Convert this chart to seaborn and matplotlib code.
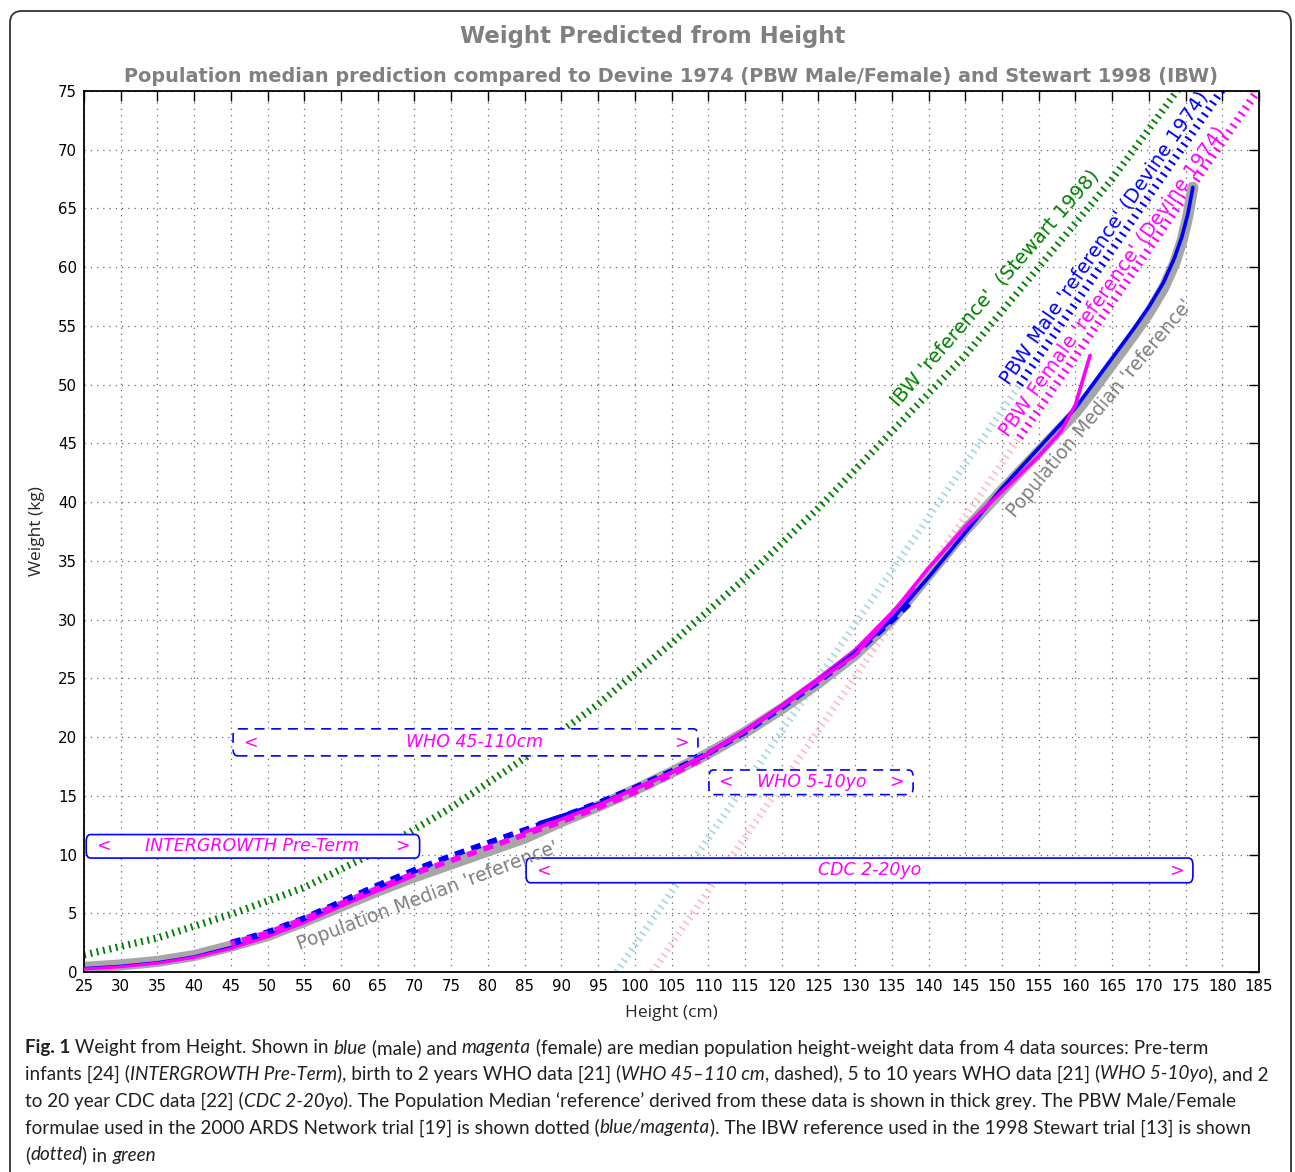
import matplotlib
matplotlib.use("Agg")
import matplotlib.pyplot as plt
import seaborn as sns
from matplotlib.patches import FancyBboxPatch
from matplotlib.transforms import IdentityTransform

# ---------------- values ----------------
# Population median 'reference' (thick grey)
median_height = [25, 30, 35, 40, 45, 50, 55, 60, 65, 70, 75, 80, 85, 90, 95, 100, 105,
                 110, 115, 120, 125, 130, 135, 140, 145, 150, 155, 160, 162, 164, 166, 168,
                 170, 172, 173.5, 174.5, 175.3, 176]
median_weight = [0.4, 0.6, 0.9, 1.4, 2.2, 3.1, 4.3, 5.6, 6.9, 8.1, 9.2, 10.3, 11.4, 12.8, 14.1, 15.5, 17.0,
                 18.6, 20.4, 22.4, 24.6, 27.0, 30.0, 33.8, 37.6, 41.0, 44.3, 47.6, 49.2, 50.9, 52.6, 54.3,
                 56.1, 58.2, 60.3, 62.2, 64.3, 66.8]

# INTERGROWTH pre-term (solid)
ig_height_m = [25, 30, 35, 40, 45, 50, 55, 60, 65, 70, 72]
ig_weight_m = [0.3, 0.5, 0.8, 1.3, 2.1, 3.1, 4.3, 5.7, 7.1, 8.5, 9.0]
ig_height_f = [25, 30, 35, 40, 45, 50, 55, 60, 65, 70]
ig_weight_f = [0.25, 0.45, 0.75, 1.25, 2.0, 3.0, 4.2, 5.6, 6.9, 8.2]

# WHO 45-110cm (dashed)
who1_height = [45, 50, 55, 60, 65, 70, 75, 80, 85, 90, 95, 100, 105, 110]
who1_weight_m = [2.5, 3.4, 4.6, 6.0, 7.4, 8.7, 9.9, 11.0, 12.1, 13.2, 14.4, 15.7, 17.1, 18.6]
who1_weight_f = [2.4, 3.3, 4.5, 5.8, 7.1, 8.4, 9.5, 10.6, 11.7, 12.8, 14.0, 15.3, 16.8, 18.4]

# WHO 5-10yo (dashed)
who2_height = [110, 115, 120, 125, 130, 135, 138]
who2_weight_m = [18.6, 20.4, 22.5, 24.7, 27.1, 29.9, 31.7]
who2_weight_f = [18.7, 20.6, 22.7, 25.0, 27.4, 30.6, 32.6]

# CDC 2-20yo (solid)
cdc_height_m = [87, 90, 95, 100, 105, 110, 115, 120, 125, 130, 135, 140, 145, 150,
                155, 160, 162, 164, 166, 168, 170, 172, 173.5, 174.5, 175.3, 176]
cdc_weight_m = [12.7, 13.3, 14.3, 15.6, 17.0, 18.6, 20.5, 22.6, 24.8, 27.2, 30.0, 33.6, 37.4, 41.2,
                44.6, 48.0, 49.7, 51.4, 53.1, 54.8, 56.6, 58.7, 60.8, 62.6, 64.5, 66.8]
cdc_height_f = [85, 90, 95, 100, 105, 110, 115, 120, 125, 130, 135, 140, 145, 150, 155, 158, 160, 162]
cdc_weight_f = [11.9, 13.0, 14.2, 15.6, 17.0, 18.6, 20.5, 22.6, 24.8, 27.0, 30.5, 34.4, 37.9, 40.9,
                43.9, 46.0, 48.3, 52.5]

# IBW 'reference' (Stewart 1998), green dotted
ibw_height = [25, 35, 45, 55, 65, 75, 85, 95, 105, 115, 125, 135, 145, 155, 165, 175]
ibw_weight = [1.45, 2.9, 4.9, 7.2, 10.3, 14.0, 18.2, 22.8, 28.0, 33.5, 39.5, 46.0, 52.5, 60.0, 67.5, 76.0]

# PBW 'reference' (Devine 1974), light below 152.4 cm
pbw_m_height_lo = [97.5, 152.4]
pbw_m_weight_lo = [0.0, 50.0]
pbw_m_height_hi = [152.4, 185.0]
pbw_m_weight_hi = [50.0, 79.7]
pbw_f_height_lo = [102.4, 152.4]
pbw_f_weight_lo = [0.0, 45.5]
pbw_f_height_hi = [152.4, 185.0]
pbw_f_weight_hi = [45.5, 75.2]

# data source range boxes
source_names = ["INTERGROWTH Pre-Term", "WHO 45-110cm", "WHO 5-10yo", "CDC 2-20yo"]
source_from = [25.3, 45.3, 110.1, 85.2]
source_to = [70.7, 108.6, 137.9, 176.0]
source_low = [9.7, 18.4, 15.1, 7.6]
source_high = [11.7, 20.7, 17.2, 9.7]
source_text_x = [47.9, 78.2, 124.1, 132.0]
source_dashed = [False, True, True, False]

W, H = 1295, 1172
sns.set_style("white")
plt.rcParams['font.family'] = ['DejaVu Sans']

fig = plt.figure(figsize=(W / 100, H / 100), dpi=100)
ax = fig.add_axes([84 / W, 1 - 972 / H, 1175 / W, 881 / H])

BLUE, MAG, GREEN, GREY = "#0000ff", "#ff00ff", "#008000", "#a6a6a6"
TICKS = (0, (0.26, 0.64))


def draw(x, y, color, lw, ls="-", z=2):
    sns.lineplot(x=x, y=y, ax=ax, color=color, linewidth=lw, linestyle=ls,
                 estimator=None, sort=False, zorder=z)


draw(ibw_height, ibw_weight, GREEN, 5.2, TICKS, 1)
draw(pbw_m_height_lo, pbw_m_weight_lo, "#add8e6", 5.2, TICKS, 1)
draw(pbw_f_height_lo, pbw_f_weight_lo, "#ffc0cb", 5.2, TICKS, 1)
draw(pbw_m_height_hi, pbw_m_weight_hi, BLUE, 5.8, TICKS, 1)
draw(pbw_f_height_hi, pbw_f_weight_hi, MAG, 5.8, TICKS, 1)

draw(median_height, median_weight, GREY, 8.0, "-", 2)

draw(ig_height_m, ig_weight_m, BLUE, 2.2, "-", 3)
draw(ig_height_f, ig_weight_f, MAG, 2.2, "-", 3)
draw(who1_height, who1_weight_m, BLUE, 4.0, (0, (1.8, 1.3)), 3)
draw(who1_height, who1_weight_f, MAG, 4.0, (1.0, (1.8, 1.3)), 3)
draw(who2_height, who2_weight_m, BLUE, 4.0, (0, (1.8, 1.3)), 3)
draw(who2_height, who2_weight_f, MAG, 2.5, "-", 3)
draw(cdc_height_m, cdc_weight_m, BLUE, 2.6, "-", 4)
draw(cdc_height_f, cdc_weight_f, MAG, 2.6, "-", 4)

# source range boxes
for name, x0, x1, y0, y1, tx, dashed in zip(source_names, source_from, source_to,
                                            source_low, source_high, source_text_x, source_dashed):
    box = FancyBboxPatch((x0, y0), x1 - x0, y1 - y0,
                         boxstyle="round,pad=0,rounding_size=0.6",
                         facecolor="white", edgecolor=BLUE, linewidth=1.2,
                         linestyle=(0, (6, 4)) if dashed else "-", zorder=5)
    ax.add_patch(box)
    ym = (y0 + y1) / 2
    ax.text(tx, ym, name, color=MAG, style="italic", fontsize=12.5, ha="center", va="center",
            family="DejaVu Sans", zorder=6)
    ax.text(x0 + 2.3, ym, "<", color=MAG, fontsize=12.5, ha="center", va="center",
            family="DejaVu Sans", zorder=6)
    ax.text(x1 - 2.3, ym, ">", color=MAG, fontsize=12.5, ha="center", va="center",
            family="DejaVu Sans", zorder=6)

# rotated curve labels
lbl = dict(ha="center", va="center", rotation_mode="anchor", zorder=7, family="DejaVu Sans")
ax.text(149.0, 58.2, "IBW 'reference'  (Stewart 1998)", color=GREEN, rotation=48.9, fontsize=14, **lbl)
ax.text(163.9, 62.5, "PBW Male 'reference' (Devine 1974)", color=BLUE, rotation=55.4, fontsize=14, **lbl)
ax.text(165.0, 58.8, "PBW Female 'reference' (Devine 1974)", color=MAG, rotation=54.5, fontsize=14, **lbl)
ax.text(163.3, 48.0, "Population Median 'reference'", color="#808080", rotation=50.0, fontsize=13.5, **lbl)
ax.text(71.8, 6.5, "Population Median 'reference'", color="#808080", rotation=20.7, fontsize=13.5, **lbl)

# axes styling
ax.set_xlim(25, 185)
ax.set_ylim(0, 75)
ax.set_xticks(range(25, 186, 5))
ax.set_yticks(range(0, 76, 5))
ax.tick_params(direction="in", length=7, width=1, top=True, right=True,
               labelsize=10.8, colors="black", pad=5, labelfontfamily="DejaVu Sans")
ax.grid(True, color="0.4", linestyle=(0, (1, 4)), linewidth=0.9)
for sp in ax.spines.values():
    sp.set_color("black")
    sp.set_linewidth(1.3)

ax.set_xlabel("Height (cm)", fontsize=12.5, family=["Open Sans", "DejaVu Sans"])
ax.set_ylabel("Weight (kg)", fontsize=12.5, family=["Open Sans", "DejaVu Sans"])
ax.xaxis.set_label_coords(0.5, -(1013 - 972) / 881)
ax.xaxis.label.set_va("center")
ax.yaxis.set_label_coords(-(84 - 37) / 1175, 0.5)
ax.yaxis.label.set_va("center")

fig.text(653 / W, 1 - 37 / H, "Weight Predicted from Height", ha="center", va="center",
         fontsize=16.5, fontweight="bold", color="#808080", family="DejaVu Sans")
fig.text(671.5 / W, 1 - 76 / H,
         "Population median prediction compared to Devine 1974 (PBW Male/Female) and Stewart 1998 (IBW)",
         ha="center", va="center", fontsize=13.9, fontweight="bold", color="#808080", family="DejaVu Sans")

# rounded frame around the figure
frame = FancyBboxPatch((10, -40), 1281, H - 11 + 40, boxstyle="round,pad=0,rounding_size=12",
                       transform=IdentityTransform(), facecolor="none", edgecolor="#333333",
                       linewidth=1.3)
fig.add_artist(frame)

# caption, drawn run by run so italics/bold sit inline
cap_lines = [
    [("Fig. 1", "b"), (" Weight from Height. Shown in ", "n"), ("blue", "i"), (" (male) and ", "n"),
     ("magenta", "i"), (" (female) are median population height-weight data from 4 data sources: Pre-term", "n")],
    [("infants [24] (", "n"), ("INTERGROWTH Pre-Term", "i"), ("), birth to 2 years WHO data [21] (", "n"),
     ("WHO 45\u2013110 cm", "i"), (", dashed), 5 to 10 years WHO data [21] (", "n"), ("WHO 5-10yo", "i"),
     ("), and 2", "n")],
    [("to 20 year CDC data [22] (", "n"), ("CDC 2-20yo", "i"),
     ("). The Population Median \u2018reference\u2019 derived from these data is shown in thick grey. The PBW Male/Female", "n")],
    [("formulae used in the 2000 ARDS Network trial [19] is shown dotted (", "n"), ("blue/magenta", "i"),
     ("). The IBW reference used in the 1998 Stewart trial [13] is shown", "n")],
    [("(", "n"), ("dotted", "i"), (") in ", "n"), ("green", "i")],
]
cap_y = [1048, 1074, 1101, 1128, 1155]
cap_right = [1273, 1265, 1262, 1278, None]
cap_family = ["Lato", "DejaVu Sans"]
renderer = fig.canvas.get_renderer()


def run_props(style, size):
    return dict(fontsize=size, family=list(cap_family), color="#231f20",
                fontweight="bold" if style == "b" else "normal",
                fontstyle="italic" if style == "i" else "normal")


def run_width(s, style, size):
    a = fig.text(0, 0, "|" + s + "|", **run_props(style, size))
    b = fig.text(0, 0, "||", **run_props(style, size))
    w = a.get_window_extent(renderer).width - b.get_window_extent(renderer).width
    a.remove()
    b.remove()
    return w


base = 13
cap_size = min(base * (r - 25) / sum(run_width(s, st, base) for s, st in runs)
               for runs, r in zip(cap_lines, cap_right) if r)

for runs, y in zip(cap_lines, cap_y):
    x = 25
    for s, st in runs:
        fig.text(x / W, 1 - y / H, s, ha="left", va="center", **run_props(st, cap_size))
        x += run_width(s, st, cap_size)

fig.savefig("out.png", dpi=100)
